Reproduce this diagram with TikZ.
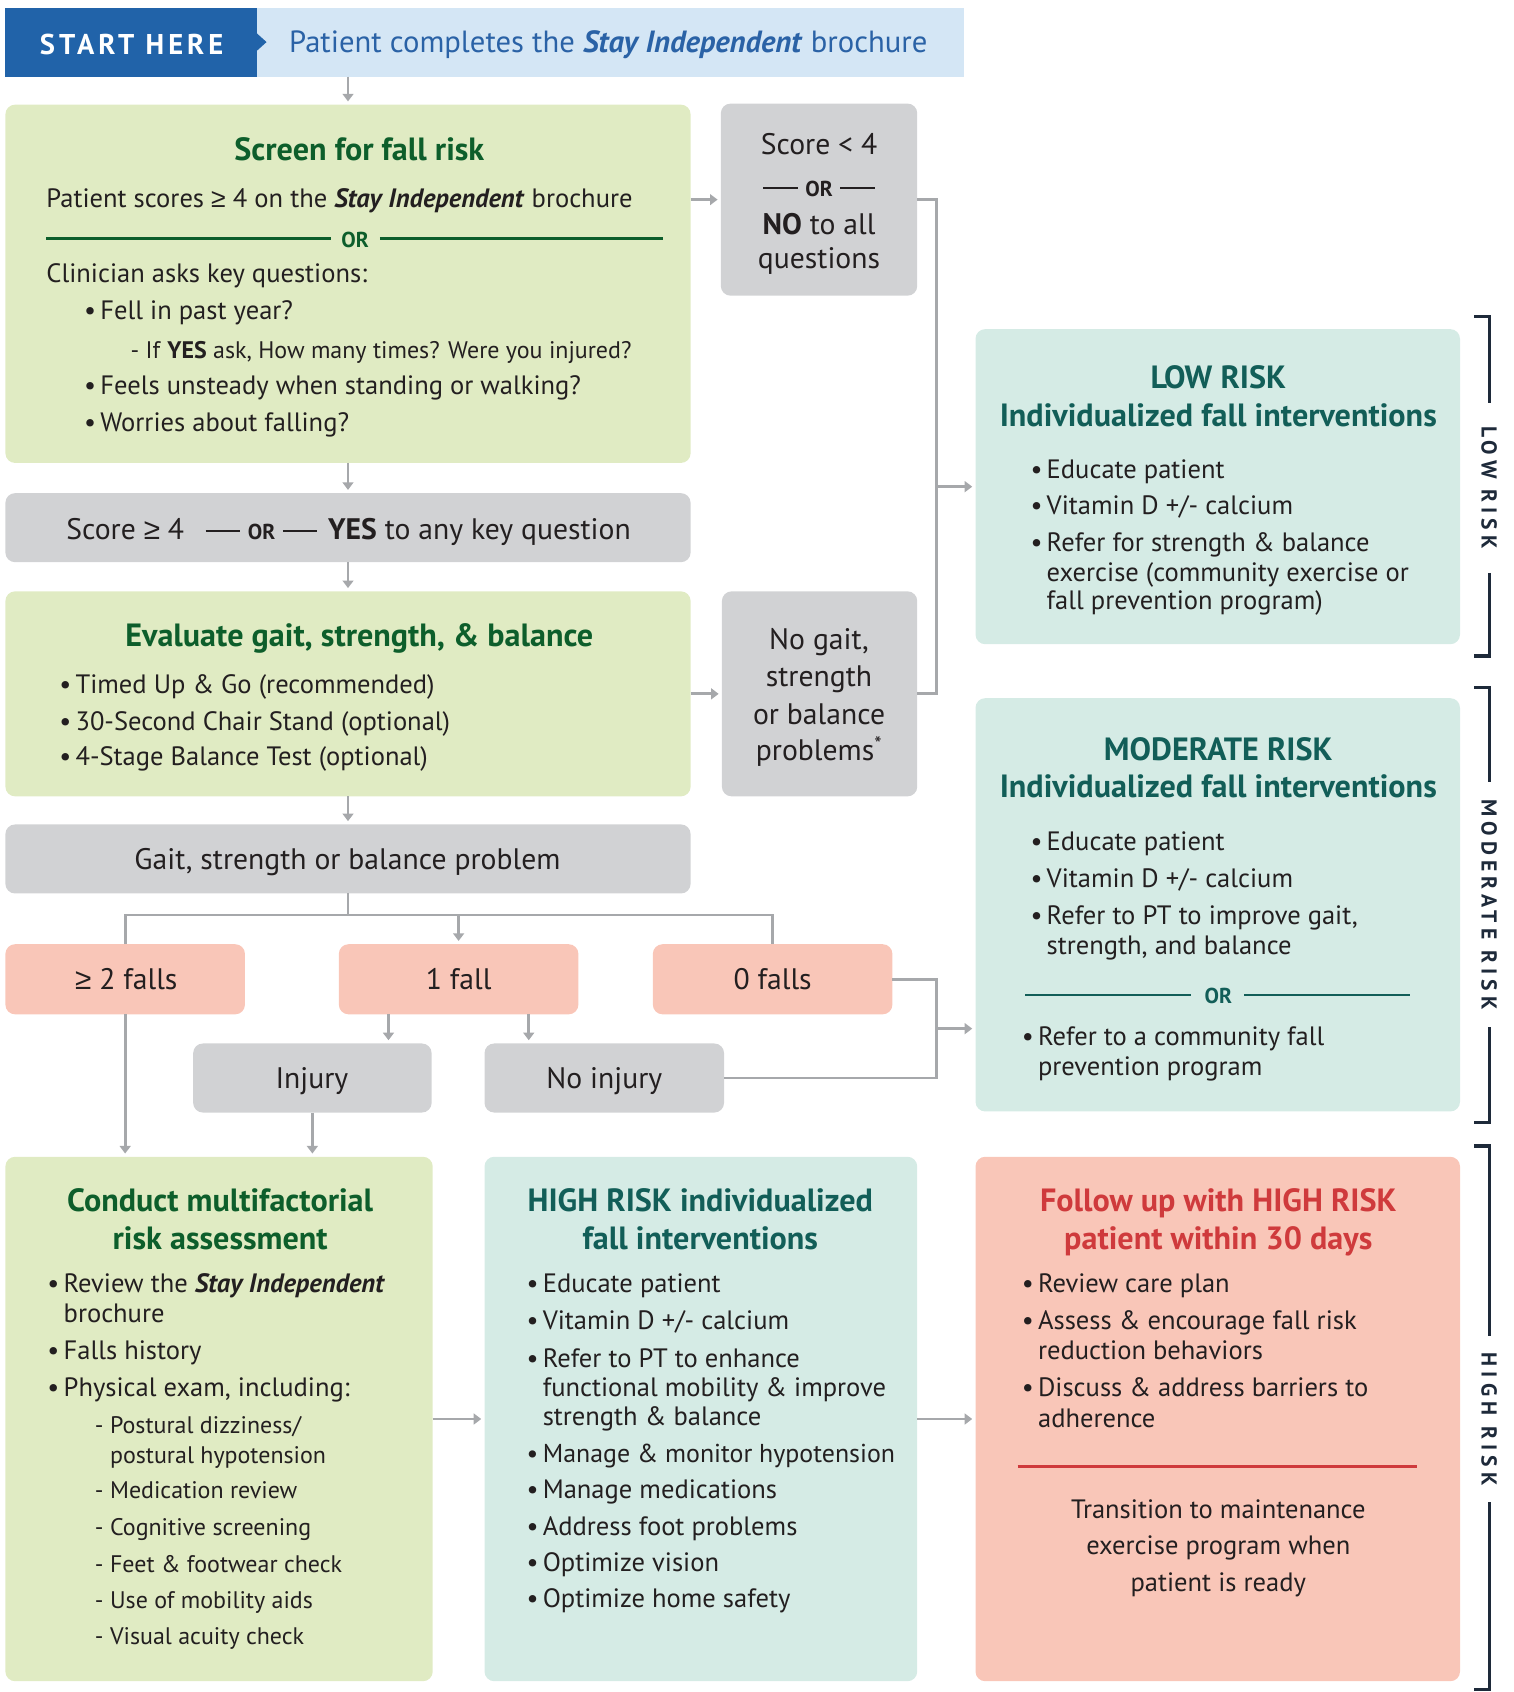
\documentclass[tikz,border=0pt]{standalone}
\usepackage{fontspec}
\setmainfont{PT Sans}
\newfontfamily\symf{Liberation Sans}
\usetikzlibrary{arrows.meta,calc}
\definecolor{dblue}{HTML}{2163A9}
\definecolor{lblue}{HTML}{D4E6F5}
\definecolor{btext}{HTML}{2A62A6}
\definecolor{gfill}{HTML}{E0EBC3}
\definecolor{gtitle}{HTML}{0D5E2B}
\definecolor{gray1}{HTML}{D1D2D4}
\definecolor{garrow}{HTML}{A6A8AB}
\definecolor{tfill}{HTML}{D5EBE5}
\definecolor{ttitle}{HTML}{125E58}
\definecolor{pfill}{HTML}{F9C6B8}
\definecolor{rtext}{HTML}{CF3A3C}
\definecolor{ink}{HTML}{231F20}
\definecolor{navy}{HTML}{1E2A3A}
\newcount\tcnt
\newcommand\tx[4][]{\global\advance\tcnt by 1\relax\node[txt,#1] (t\the\tcnt) at ({#2},{#3+8}) {#4};}
\newcommand\ct[4][]{\global\advance\tcnt by 1\relax\node[txt,anchor=base,#1] (t\the\tcnt) at ({#2},{#3+8}) {#4};}
\newcommand\bu[4][]{\tx[#1]{#2}{#3}{•}\tx[#1]{#2+15}{#3}{#4}}
\newcommand\bx[6]{\node[box,fill=#2,minimum width=#5,minimum height=#6] (#1) at (#3,#4) {};}
\newcommand\orrule{\rule[7pt]{32pt}{2pt}\hspace{7pt}{\bfseries\fontsize{20}{22}\selectfont OR}\hspace{7pt}\rule[7pt]{32pt}{2pt}}
\newcommand\gsym{{\symf ≥}}
\begin{document}
\begin{tikzpicture}[x=1pt,y=-1pt,
  txt/.style={anchor=base west,inner sep=0pt,outer sep=0pt,text=ink,font=\fontsize{24.6}{29}\selectfont},
  ttl/.style={font=\bfseries\fontsize{29.8}{34}\selectfont,yshift=-2pt},
  sm/.style={font=\fontsize{22.2}{26}\selectfont},
  gb/.style={font=\fontsize{27.5}{32}\selectfont,yshift=-1pt},
  box/.style={draw=none,rounded corners=9pt,inner sep=0pt,outer sep=0pt,anchor=north west},
  ln/.style={draw=garrow,line width=2.6pt},
  arr/.style={draw=garrow,line width=2.6pt,-{Triangle[length=7pt,width=10pt]},shorten >=3pt},
  gline/.style={line width=2.6pt},
  brk/.style={draw=navy,line width=3pt},
  brt/.style={text=navy,font=\bfseries\fontsize{20}{22}\selectfont\addfontfeatures{LetterSpace=24},rotate=-90,inner sep=0pt}]
\useasboundingbox (0,0) rectangle (1403,1568);
% banner
\node[box,rounded corners=0pt,fill=dblue,minimum width=233,minimum height=64] (start) at (5,7) {};
\node[box,rounded corners=0pt,fill=lblue,minimum width=655,minimum height=64] (banner) at (238,7) {};
\fill[dblue] (237,30) -- (247,39) -- (237,48) -- cycle;
\node[text=white,font=\bfseries\fontsize{26.5}{30}\selectfont\addfontfeatures{LetterSpace=14},inner sep=0pt] (sh) at (122,41) {START HERE};
\tx[text=btext,font=\fontsize{28.4}{32}\selectfont]{268}{41}{Patient completes the \textbf{\textit{Stay Independent}} brochure}
% screen box
\bx{screen}{gfill}{5}{97}{635}{332}
\ct[ttl,text=gtitle]{333}{139}{Screen for fall risk}
\tx{43}{184}{Patient scores \gsym\ 4 on the \textbf{\textit{Stay Independent}} brochure}
\draw[gline,gtitle] (43,221) -- (307,221);
\draw[gline,gtitle] (352,221) -- (614,221);
\ct[text=gtitle,font=\bfseries\fontsize{20}{22}\selectfont]{329}{221}{OR}
\tx{43}{254}{Clinician asks key questions:}
\bu{78}{288}{Fell in past year?}
\tx[sm]{121}{324}{- If \textbf{YES} ask, How many times? Were you injured?}
\bu{78}{358}{Feels unsteady when standing or walking?}
\bu{78}{392}{Worries about falling?}
% score < 4
\bx{lowq}{gray1}{668}{96}{182}{178}
\ct[gb]{759}{134}{Score < 4}
\ct[gb]{759}{173}{\orrule}
\ct[gb]{759}{208}{\textbf{NO} to all}
\ct[gb]{759}{240}{questions}
% low risk
\bx{low}{tfill}{904}{305}{449}{292}
\ct[ttl,text=ttitle]{1129}{350}{LOW RISK}
\ct[ttl,text=ttitle]{1129}{385}{Individualized fall interventions}
\bu{955}{435}{Educate patient}
\bu{955}{469}{Vitamin D +/- calcium}
\bu{955}{503}{Refer for strength \& balance}
\tx{970}{531}{exercise (community exercise or}
\tx{970}{557}{fall prevention program)}
% score >= 4
\bx{hiq}{gray1}{5}{457}{635}{64}
\ct[gb]{323}{491}{Score \gsym\ 4\hspace{20pt}\orrule\hspace{10pt}\textbf{YES} to any key question}
% evaluate
\bx{eval}{gfill}{5}{548}{635}{190}
\ct[ttl,text=gtitle]{333}{589}{Evaluate gait, strength, \& balance}
\bu{55}{635}{Timed Up \& Go (recommended)}
\bu{55}{669}{30-Second Chair Stand (optional)}
\bu{55}{701}{4-Stage Balance Test (optional)}
% no gait
\bx{nogait}{gray1}{669}{548}{181}{190}
\ct[gb]{759}{593}{No gait,}
\ct[gb]{759}{627}{strength}
\ct[gb]{759}{662}{or balance}
\ct[gb]{759}{696}{problems\textsuperscript{*}}
% gait problem
\bx{gait}{gray1}{5}{764}{635}{64}
\ct[gb]{322}{797}{Gait, strength or balance problem}
% falls
\bx{two}{pfill}{5}{875}{222}{65}
\bx{one}{pfill}{314}{875}{222}{65}
\bx{zero}{pfill}{605}{875}{222}{65}
\ct[gb]{117}{908}{\gsym\ 2 falls}
\ct[gb]{425}{908}{1 fall}
\ct[gb]{716}{908}{0 falls}
\bx{inj}{gray1}{179}{967}{221}{64}
\bx{noinj}{gray1}{449}{967}{222}{64}
\ct[gb]{289}{1000}{Injury}
\ct[gb]{560}{1000}{No injury}
% moderate
\bx{mod}{tfill}{904}{647}{449}{383}
\ct[ttl,text=ttitle]{1129}{695}{MODERATE RISK}
\ct[ttl,text=ttitle]{1129}{729}{Individualized fall interventions}
\bu{955}{780}{Educate patient}
\bu{955}{814}{Vitamin D +/- calcium}
\bu{955}{849}{Refer to PT to improve gait,}
\tx{970}{877}{strength, and balance}
\draw[gline,ttitle] (950,922) -- (1104,922);
\draw[gline,ttitle] (1153,922) -- (1307,922);
\ct[text=ttitle,font=\bfseries\fontsize{20}{22}\selectfont]{1129}{922}{OR}
\bu{947}{961}{Refer to a community fall}
\tx{962}{989}{prevention program}
% conduct
\bx{cond}{gfill}{5}{1072}{396}{486}
\ct[ttl,text=gtitle]{204}{1113}{Conduct multifactorial}
\ct[ttl,text=gtitle]{204}{1148}{risk assessment}
\bu{44}{1190}{Review the \textbf{\textit{Stay Independent}}}
\tx{59}{1218}{brochure}
\bu{44}{1252}{Falls history}
\bu{44}{1286}{Physical exam, including:}
\tx[sm]{88}{1320}{-}\tx[sm]{102}{1320}{Postural dizziness/}
\tx[sm]{102}{1348}{postural hypotension}
\tx[sm]{88}{1381}{-}\tx[sm]{102}{1381}{Medication review}
\tx[sm]{88}{1415}{-}\tx[sm]{102}{1415}{Cognitive screening}
\tx[sm]{88}{1449}{-}\tx[sm]{102}{1449}{Feet \& footwear check}
\tx[sm]{88}{1483}{-}\tx[sm]{102}{1483}{Use of mobility aids}
\tx[sm]{88}{1516}{-}\tx[sm]{102}{1516}{Visual acuity check}
% high
\bx{high}{tfill}{449}{1072}{401}{486}
\ct[ttl,text=ttitle]{649}{1113}{HIGH RISK individualized}
\ct[ttl,text=ttitle]{649}{1148}{fall interventions}
\bu{488}{1190}{Educate patient}
\bu{488}{1224}{Vitamin D +/- calcium}
\bu{488}{1259}{Refer to PT to enhance}
\tx{503}{1286}{functional mobility \& improve}
\tx{503}{1313}{strength \& balance}
\bu[font=\fontsize{24}{29}\selectfont]{488}{1347}{Manage \& monitor hypotension}
\bu{488}{1381}{Manage medications}
\bu{488}{1415}{Address foot problems}
\bu{488}{1448}{Optimize vision}
\bu{488}{1482}{Optimize home safety}
% follow up
\bx{follow}{pfill}{904}{1072}{449}{486}
\ct[ttl,text=rtext]{1129}{1113}{Follow up with HIGH RISK}
\ct[ttl,text=rtext]{1129}{1148}{patient within 30 days}
\bu{947}{1190}{Review care plan}
\bu{947}{1224}{Assess \& encourage fall risk}
\tx{962}{1252}{reduction behaviors}
\bu{947}{1286}{Discuss \& address barriers to}
\tx{962}{1315}{adherence}
\draw[gline,rtext] (943,1359) -- (1313,1359);
\ct{1129}{1399}{Transition to maintenance}
\ct{1129}{1433}{exercise program when}
\ct{1129}{1467}{patient is ready}
% brackets
\draw[brk] (1366,293) -- (1380,293) -- (1380,373);
\draw[brk] (1380,531) -- (1380,608) -- (1366,608);
\node[brt] (lr) at (1380,452) {LOW RISK};
\draw[brk] (1366,637) -- (1380,637) -- (1380,725);
\draw[brk] (1380,952) -- (1380,1040) -- (1366,1040);
\node[brt] (mr) at (1380,838) {MODERATE RISK};
\draw[brk] (1366,1062) -- (1380,1062) -- (1380,1238);
\draw[brk] (1380,1392) -- (1380,1566) -- (1366,1566);
\node[brt] (hr) at (1380,1315) {HIGH RISK};
% connectors
\draw[arr] (screen.north |- banner.south) -- (screen.north);
\draw[arr] (screen.east |- lowq.west) -- (lowq.west);
\draw[ln] (lowq.east) -- ++(18,0) coordinate (j1) |- (nogait.east);
\draw[arr] (j1 |- low.west) -- (low.west);
\draw[arr] (screen.south) -- (hiq.north);
\draw[arr] (hiq.south) -- (eval.north);
\draw[arr] (eval.east) -- (nogait.west);
\draw[arr] (eval.south) -- (gait.north);
\draw[ln] (gait.south) -- ++(0,20) coordinate (b);
\draw[ln] (two.north) |- (b) -| (zero.north);
\draw[arr] (one.north |- b) -- (one.north);
\draw[arr] ([xshift=-65pt]one.south) -- ([xshift=-65pt]one.south |- inj.north);
\draw[arr] ([xshift=65pt]one.south) -- ([xshift=65pt]one.south |- noinj.north);
\draw[ln] (zero.east) -- ++(41,0) coordinate (j2) |- (noinj.east);
\coordinate (m) at ($(j2)!0.5!(j2 |- noinj.east)$);
\draw[arr] (m) -- (m -| mod.west);
\draw[arr] (two.south) -- (two.south |- cond.north);
\draw[arr] (inj.south) -- (inj.south |- cond.north);
\draw[arr] (cond.east) -- (high.west);
\draw[arr] (high.east) -- (follow.west);
\end{tikzpicture}
\end{document}
